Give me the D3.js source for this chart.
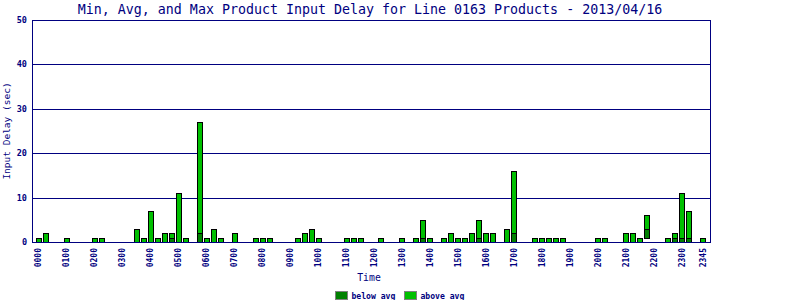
<!DOCTYPE html>
<html>
<head>
<meta charset="utf-8">
<script src="https://cdn.jsdelivr.net/npm/d3@7"></script>
<style>
  body { margin: 0; background: #fff; }
  text { font-family: "DejaVu Sans Mono", monospace; fill: #000080; }
</style>
</head>
<body>
<svg id="chart" width="800" height="300"></svg>
<script>
// time slots, one every 15 minutes
var slots = [];
for (var h = 0; h < 24; h++) {
    for (var m = 0; m < 60; m += 15) {
        slots.push((h < 10 ? '0' : '') + h + (m < 10 ? '0' : '') + m);
    }
}
var tickLabels = ['0000', '0100', '0200', '0300', '0400', '0500', '0600', '0700', '0800', '0900',
    '1000', '1100', '1200', '1300', '1400', '1500', '1600', '1700', '1800', '1900',
    '2000', '2100', '2200', '2300', '2345'];
var yTicks = [0, 10, 20, 30, 40, 50];

// delay in seconds per slot
var maxDelay = [
    1, 2, 0, 0, 1, 0, 0, 0, 1, 1, 0, 0, 0, 0, 3, 1, 7, 1, 2, 2, 11, 1, 0, 27,
    1, 3, 1, 0, 2, 0, 0, 1, 1, 1, 0, 0, 0, 1, 2, 3, 1, 0, 0, 0, 1, 1, 1, 0,
    0, 1, 0, 0, 1, 0, 1, 5, 1, 0, 1, 2, 1, 1, 2, 5, 2, 2, 0, 3, 16, 0, 0, 1,
    1, 1, 1, 1, 0, 0, 0, 0, 1, 1, 0, 0, 2, 2, 1, 6, 0, 0, 1, 2, 11, 7, 0, 1
];
var avgDelay = [
    0, 0, 0, 0, 0, 0, 0, 0, 0, 0, 0, 0, 0, 0, 0, 0, 0, 0, 0, 1, 0, 0, 0, 2,
    0, 0, 0, 0, 0, 0, 0, 0, 0, 0, 0, 0, 0, 0, 0, 0, 0, 0, 0, 0, 0, 0, 0, 0,
    0, 0, 0, 0, 0, 0, 0, 1, 0, 0, 0, 0, 0, 0, 0, 1, 0, 0, 0, 0, 2, 0, 0, 0,
    0, 0, 0, 0, 0, 0, 0, 0, 0, 0, 0, 0, 0, 0, 0, 2.9, 0, 0, 0, 1, 1, 1, 0, 0
];
var minDelay = [
    0, 0, 0, 0, 0, 0, 0, 0, 0, 0, 0, 0, 0, 0, 0, 0, 0, 0, 0, 0, 0, 0, 0, 0,
    0, 0, 0, 0, 0, 0, 0, 0, 0, 0, 0, 0, 0, 0, 0, 0, 0, 0, 0, 0, 0, 0, 0, 0,
    0, 0, 0, 0, 0, 0, 0, 0, 0, 0, 0, 0, 0, 0, 0, 0, 0, 0, 0, 0, 0, 0, 0, 0,
    0, 0, 0, 0, 0, 0, 0, 0, 0, 0, 0, 0, 0, 0, 0, 0.8, 0, 0, 0, 0, 0, 0, 0, 0
];

(function () {
    var navy = '#000080', below = '#008000', above = '#00c000';
    var svg = d3.select('#chart');
    var pl = 32, pr = 710, pt = 20, pb = 242;

    var x = d3.scalePoint().domain(slots).range([pl, pr]).padding(0.93);
    var y = d3.scaleLinear().domain([0, 50]).range([pb, pt]);

    // title
    svg.append('text')
        .attr('x', (pl + pr) / 2 - 1).attr('y', 14)
        .attr('text-anchor', 'middle')
        .style('font-size', '13.3px')
        .text('Min, Avg, and Max Product Input Delay for Line 0163 Products - 2013/04/16');

    // grid lines
    svg.append('g').selectAll('line')
        .data(yTicks.slice(1, -1))
        .enter().append('line')
        .attr('x1', pl).attr('x2', pr)
        .attr('y1', function (d) { return Math.round(y(d)) + 0.5; })
        .attr('y2', function (d) { return Math.round(y(d)) + 0.5; })
        .style('stroke', navy);

    // y tick labels
    svg.append('g').selectAll('text')
        .data(yTicks)
        .enter().append('text')
        .attr('x', 27)
        .attr('y', function (d) { return y(d); })
        .attr('dy', '0.35em')
        .attr('text-anchor', 'end')
        .style('font-size', '8.5px')
        .style('font-weight', 'bold')
        .text(function (d) { return d; });

    // bars: min..avg dark, avg..max bright
    var rows = slots.map(function (s, i) {
        return {slot: s, min: minDelay[i], avg: avgDelay[i], max: maxDelay[i]};
    }).filter(function (d) { return d.max > 0; });

    var bars = svg.append('g');
    rows.forEach(function (d) {
        var cx = Math.round(x(d.slot));
        var segs = [[d.min, d.avg, below], [d.avg, d.max, above]];
        segs.forEach(function (s) {
            if (s[1] - s[0] <= 0) return;
            var y0 = Math.round(y(s[0])), y1 = Math.round(y(s[1]));
            bars.append('rect')
                .attr('x', cx - 2.5).attr('y', y1 + 0.5)
                .attr('width', 5).attr('height', y0 - y1)
                .style('fill', s[2])
                .style('stroke', '#000');
        });
    });

    // frame
    svg.append('rect')
        .attr('x', pl + 0.5).attr('y', pt + 0.5)
        .attr('width', pr - pl).attr('height', pb - pt)
        .style('fill', 'none')
        .style('stroke', navy);

    // x tick labels
    svg.append('g').selectAll('text')
        .data(tickLabels)
        .enter().append('text')
        .attr('transform', function (d) { return 'translate(' + x(d) + ',248) rotate(-90)'; })
        .attr('dy', '0.35em')
        .attr('text-anchor', 'end')
        .style('font-size', '8px')
        .style('font-weight', 'bold')
        .text(function (d) { return d; });

    // axis titles
    svg.append('text')
        .attr('transform', 'translate(10,' + (pt + pb) / 2 + ') rotate(-90)')
        .attr('text-anchor', 'middle')
        .style('font-size', '9.5px')
        .text('Input Delay (sec)');
    svg.append('text')
        .attr('x', 369).attr('y', 281)
        .attr('text-anchor', 'middle')
        .style('font-size', '9.8px')
        .text('Time');

    // legend
    var legend = [['below avg', below], ['above avg', above]];
    var lg = svg.append('g').selectAll('g')
        .data(legend)
        .enter().append('g')
        .attr('transform', function (d, i) { return 'translate(' + (335.5 + i * 69) + ',291.5)'; });
    lg.append('rect')
        .attr('width', 12).attr('height', 8)
        .style('fill', function (d) { return d[1]; })
        .style('stroke', '#808080');
    lg.append('text')
        .attr('x', 16).attr('y', 7)
        .style('font-size', '8.1px')
        .style('font-weight', 'bold')
        .text(function (d) { return d[0]; });
})();
</script>
</body>
</html>
